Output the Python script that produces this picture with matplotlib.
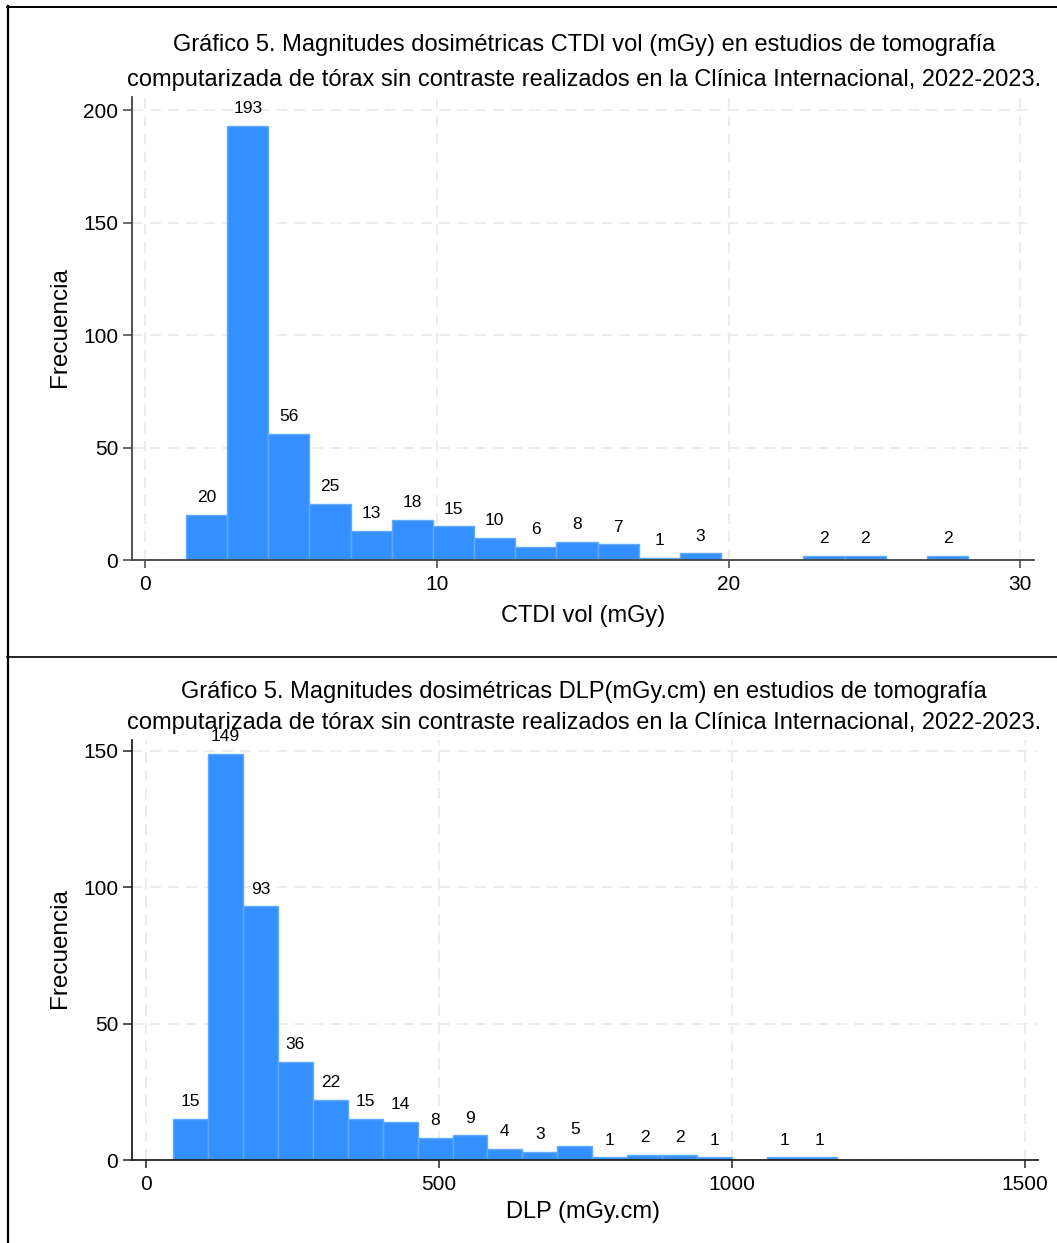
import matplotlib
matplotlib.use("Agg")
import matplotlib.pyplot as plt
from matplotlib.lines import Line2D

plt.rcParams['font.family'] = ['Liberation Sans', 'DejaVu Sans']

# Histogram counts (bins of equal width)
ctdi_counts = [20, 193, 56, 25, 13, 18, 15, 10, 6, 8, 7, 1, 3, 0, 0, 2, 2, 0, 2]
ctdi_start = 1.39
ctdi_width = 1.412

dlp_counts = [15, 149, 93, 36, 22, 15, 14, 8, 9, 4, 3, 5, 1, 2, 2, 1, 0, 1, 1]
dlp_start = 46.6
dlp_width = 59.6

title_ctdi = ["Gráfico 5. Magnitudes dosimétricas CTDI vol (mGy) en estudios de tomografía",
              "computarizada de tórax sin contraste realizados en la Clínica Internacional, 2022-2023."]
title_dlp = ["Gráfico 5. Magnitudes dosimétricas DLP(mGy.cm) en estudios de tomografía",
             "computarizada de tórax sin contraste realizados en la Clínica Internacional, 2022-2023."]

W, H = 1057, 1243
fig = plt.figure(figsize=(W / 100, H / 100), dpi=100)

bar_color = '#3590ff'
edge_color = '#62aaff'


def px(x, y):
    # pixel (from top-left) -> figure fraction
    return x / W, 1 - y / H


def draw_hist(rect, counts, start, width, xlim, ylim, xticks, yticks, spine_color):
    ax = fig.add_axes(rect)
    edges = [start + i * width for i in range(len(counts))]
    ax.bar(edges, counts, width=width, align='edge', color=bar_color,
           edgecolor=edge_color, linewidth=1.0, zorder=2)
    for e, c in zip(edges, counts):
        if c > 0:
            ax.annotate(str(c), (e + width / 2, c), xytext=(0, 7),
                        textcoords='offset points', ha='center', va='bottom',
                        fontsize=12.5, color='black', zorder=3)
    ax.set_xlim(*xlim)
    ax.set_ylim(*ylim)
    ax.set_xticks(xticks)
    ax.set_yticks(yticks)
    ax.grid(True, linestyle=(0, (6, 4)), color='#ebebeb', linewidth=1.3, zorder=0)
    ax.set_axisbelow(True)
    for s in ['top', 'right']:
        ax.spines[s].set_visible(False)
    for s in ['left', 'bottom']:
        ax.spines[s].set_color(spine_color)
        ax.spines[s].set_linewidth(1.3)
        ax.spines[s].set_zorder(4)
    ax.tick_params(axis='y', length=6.5, width=1.1, pad=3.5, labelsize=15, color=spine_color)
    ax.tick_params(axis='x', length=6, width=1.1, pad=5, labelsize=15, color=spine_color)
    return ax


# panel 1: CTDI vol
l, t = px(132, 97)
r, b = px(1034, 560)
draw_hist([l, b, r - l, t - b], ctdi_counts, ctdi_start, ctdi_width,
          (-0.463, 30.48), (0, 205.8), [0, 10, 20, 30], [0, 50, 100, 150, 200], '#444444')

# panel 2: DLP
l, t = px(132, 740)
r, b = px(1038, 1160)
draw_hist([l, b, r - l, t - b], dlp_counts, dlp_start, dlp_width,
          (-23.9, 1523), (0, 154.0), [0, 500, 1000, 1500], [0, 50, 100, 150], '#222222')

# titles and axis labels
for (yy, txt) in [(45, title_ctdi[0]), (80, title_ctdi[1]),
                  (692, title_dlp[0]), (723, title_dlp[1])]:
    fig.text(*px(584, yy), txt, ha='center', va='center', fontsize=17)

fig.text(*px(583, 616), "CTDI vol (mGy)", ha='center', va='center', fontsize=17)
fig.text(*px(583, 1212), "DLP (mGy.cm)", ha='center', va='center', fontsize=17)
fig.text(*px(60, 327), "Frecuencia", ha='center', va='center', fontsize=17.5, rotation=90)
fig.text(*px(60, 948), "Frecuencia", ha='center', va='center', fontsize=17.5, rotation=90)

# table border lines
for (x0, y0, x1, y1, lw) in [(7.5, 6, 7.5, H, 1.6), (7, 6.5, W, 6.5, 1.4), (7, 657, W, 657, 1.2)]:
    X0, Y0 = px(x0, y0)
    X1, Y1 = px(x1, y1)
    fig.add_artist(Line2D([X0, X1], [Y0, Y1], color='black', linewidth=lw))

fig.savefig('out.png', dpi=100, facecolor='white')
